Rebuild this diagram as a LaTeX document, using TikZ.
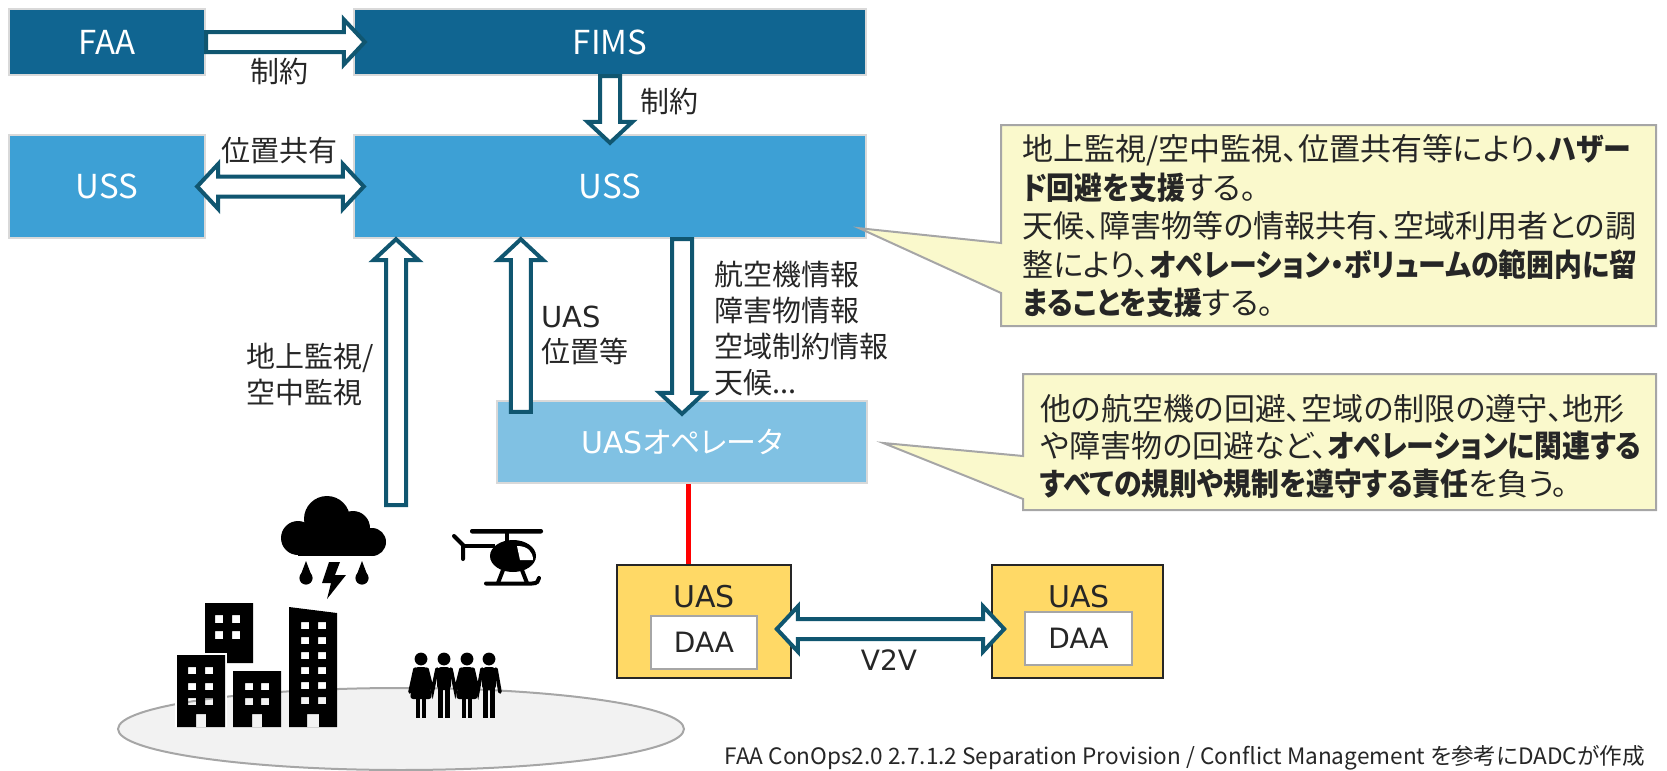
\documentclass[tikz,border=0pt]{standalone}
\usepackage{graphicx}
\usepackage{fontspec}
\setmainfont{Noto Sans CJK JP}[RawFeature=+palt]
\newfontfamily\dvs{DejaVu Sans}
\usetikzlibrary{calc}

\definecolor{faablue}{RGB}{16,101,145}
\definecolor{ussblue}{RGB}{61,160,213}
\definecolor{opblue}{RGB}{128,193,227}
\definecolor{arrowteal}{RGB}{16,86,112}
\definecolor{boxedge}{RGB}{217,217,217}
\definecolor{uasyellow}{RGB}{255,217,102}
\definecolor{notefill}{RGB}{250,249,204}
\definecolor{noteedge}{RGB}{166,166,166}
\definecolor{txt}{RGB}{38,38,38}
\definecolor{groundfill}{RGB}{242,242,242}

% condensed bold for emphasis inside the notes
\newcommand\bt[1]{\scalebox{0.9}[1]{\bfseries #1}}

% hollow block arrow from #1 to the tip #2
\newcommand\BlkArrow[2]{%
  \coordinate (hb) at ($(#2)!10.5pt!(#1)$);
  \draw[blk] ($(#1)!5pt!90:(#2)$) -- ($(hb)!5pt!-90:(#1)$) -- ($(hb)!11.25pt!-90:(#1)$) -- (#2)
    -- ($(hb)!11.25pt!90:(#1)$) -- ($(hb)!5pt!90:(#1)$) -- ($(#1)!5pt!-90:(#2)$) -- cycle;}
% hollow block arrow with heads at both ends
\newcommand\BlkDouble[2]{%
  \coordinate (ha) at ($(#1)!10.5pt!(#2)$);
  \coordinate (hb) at ($(#2)!10.5pt!(#1)$);
  \draw[blk] (#1) -- ($(ha)!11.25pt!90:(#2)$) -- ($(ha)!5pt!90:(#2)$) -- ($(hb)!5pt!-90:(#1)$)
    -- ($(hb)!11.25pt!-90:(#1)$) -- (#2) -- ($(hb)!11.25pt!90:(#1)$) -- ($(hb)!5pt!90:(#1)$)
    -- ($(ha)!5pt!-90:(#2)$) -- ($(ha)!11.25pt!-90:(#2)$) -- cycle;}
% pictogram people
\newcommand\PersonM[1]{%
  \fill (#1,659) circle (3.2pt);
  \fill[rounded corners=2pt] ({#1-7},667) rectangle ({#1+7},690);
  \fill ({#1-6},686) rectangle ({#1-1},718);
  \fill ({#1+1},686) rectangle ({#1+6},718);}
\newcommand\PersonW[1]{%
  \fill (#1,659) circle (3.2pt);
  \fill[rounded corners=1.5pt] ({#1-6},667) -- ({#1+6},667) -- ({#1+11},699) -- ({#1-11},699) -- cycle;
  \fill ({#1-5},697) rectangle ({#1-1},718);
  \fill ({#1+1},697) rectangle ({#1+5},718);}

\begin{document}
\begin{tikzpicture}[x=0.5pt,y=-0.5pt,
  box/.style={draw=boxedge, line width=1.2pt, inner sep=0pt, text=white,
    font=\fontsize{16.5}{20}\selectfont},
  blk/.style={draw=arrowteal, fill=white, line width=2pt, line join=miter},
  lbl/.style={text=txt, inner sep=0pt, align=left, font=\fontsize{14.5}{18}\selectfont},
  uasbox/.style={draw=txt, fill=uasyellow, line width=0.8pt, inner sep=0pt},
  daabox/.style={draw=noteedge, fill=white, line width=1pt, inner sep=0pt, text=txt,
    font=\dvs\fontsize{14}{16}\selectfont},
  note/.style={draw=noteedge, fill=notefill, line width=1pt, line join=miter},
  notetxt/.style={text=txt, inner sep=0pt, align=left}]
\useasboundingbox (0,0) rectangle (1667,771);

% ground
\draw[draw=noteedge, fill=groundfill, line width=1pt] (401,729) ellipse [x radius=141.5pt, y radius=20.5pt];

% buildings
\fill[even odd rule] (205,603) rectangle (253,663)
  (215,615) rectangle (223,623) (232,615) rectangle (240,623)
  (215,631) rectangle (223,639) (232,631) rectangle (240,639);
\draw[white, line width=2pt] (177,727) -- (177,655) -- (225,655) -- (225,727);
\fill[even odd rule] (177,655) rectangle (225,727)
  (188,667) rectangle (196,674) (205,667) rectangle (213,674)
  (188,683) rectangle (196,690) (205,683) rectangle (213,690)
  (188,698) rectangle (196,705) (205,698) rectangle (213,705)
  (196,714) rectangle (206,727);
\fill[even odd rule] (233,671) rectangle (281,727)
  (245,683) rectangle (253,690) (261,683) rectangle (269,690)
  (245,698) rectangle (253,705) (261,698) rectangle (269,705)
  (252,714) rectangle (262,727);
\fill[even odd rule] (289,607) -- (337,613) -- (337,727) -- (289,727) -- cycle
  (301,622) rectangle (309,629) (318,622) rectangle (326,629)
  (301,637) rectangle (309,644) (318,637) rectangle (326,644)
  (301,652) rectangle (309,659) (318,652) rectangle (326,659)
  (301,667) rectangle (309,674) (318,667) rectangle (326,674)
  (301,682) rectangle (309,689) (318,682) rectangle (326,689)
  (301,697) rectangle (309,704) (318,697) rectangle (326,704)
  (307,714) rectangle (319,727);

% storm cloud
\fill (298,538) circle (8.5pt);
\fill (327,519) circle (11.5pt);
\fill (353,528) circle (8.5pt);
\fill (372,542) circle (7pt);
\fill (298,530) rectangle (372,556);
\fill (306,578) circle (3.3pt);
\fill (306,561) -- (300.3,576) -- (311.7,576) -- cycle;
\fill (362,578) circle (3.3pt);
\fill (362,561) -- (356.3,576) -- (367.7,576) -- cycle;
\fill (329,562) -- (340,562) -- (335,575) -- (346,575) -- (327,599) -- (331,583) -- (322,583) -- cycle;

% helicopter
\fill[rounded corners=1pt] (470,529) rectangle (543,533.5);
\fill (504.5,531) rectangle (508.5,542);
\fill (513,556) ellipse [x radius=11.5pt, y radius=8pt];
\fill[white] (517,546) .. controls (528,546) and (533,552) .. (533,560) -- (520,560) -- cycle;
\draw[line width=2pt, line cap=round] (454,536) -- (463,545) -- (463,559);
\draw[line width=2pt] (463,546) -- (495,546);
\draw[line width=2pt, line cap=round] (486,583.5) -- (532,583.5) .. controls (537,583.5) and (539,581) .. (539,578);
\draw[line width=2pt] (503,570) -- (498,583);
\draw[line width=2pt] (522,570) -- (527,583);

% people
\PersonW{421}\PersonM{444}\PersonW{467}\PersonM{489}
\begin{scope}[line width=1.8pt, line cap=round]
  \draw (415,669) -- (410,692);
  \draw (427,669) -- (432.5,691) -- (437,669);
  \draw (451,669) -- (455.5,691) -- (461,669);
  \draw (473,669) -- (478,691) -- (482,669);
  \draw (496,669) -- (500,692);
\end{scope}

% system boxes
\node[box, fill=faablue, minimum width=98pt, minimum height=33pt] (faa) at (107,42) {FAA};
\node[box, fill=faablue, minimum width=256pt, minimum height=33pt] (fims) at (610,42) {FIMS};
\node[box, fill=ussblue, minimum width=98pt, minimum height=51.5pt] (ussl) at (107,186.5) {USS};
\node[box, fill=ussblue, minimum width=256pt, minimum height=51.5pt] (uss) at (610,186.5) {USS};
\node[box, fill=opblue, minimum width=185pt, minimum height=41pt, font=\fontsize{15}{18}\selectfont]
  (op) at (682,442) {{\dvs UAS}オペレータ};

% aircraft with detect-and-avoid
\node[uasbox, minimum width=87pt, minimum height=56.5pt] (uasl) at (704,621.5) {};
\node[text=txt, inner sep=0pt, font=\dvs\fontsize{15}{18}\selectfont] (uaslt) at (704,597) {UAS};
\node[daabox, minimum width=53pt, minimum height=26.5pt] (daal) at (704,642.5) {DAA};
\node[uasbox, minimum width=85.5pt, minimum height=56.5pt] (uasr) at (1077.5,621.5) {};
\node[text=txt, inner sep=0pt, font=\dvs\fontsize{15}{18}\selectfont] (uasrt) at (1079,597) {UAS};
\node[daabox, minimum width=53.5pt, minimum height=26.5pt] (daar) at (1078.5,638.5) {DAA};

% operator to aircraft link
\draw[red, line width=2.5pt] ([xshift=-8pt]uasl.north |- op.south) -- ([xshift=-8pt]uasl.north);

% information flows
\coordinate (a1t) at ([xshift=6pt]fims.west);
\BlkArrow{faa.east}{a1t}
\coordinate (a2t) at ([yshift=-4.5pt]uss.north);
\BlkArrow{fims.south}{a2t}
\coordinate (a3l) at ([xshift=-4.5pt]ussl.east);
\coordinate (a3r) at ([xshift=5.5pt]uss.west);
\BlkDouble{a3l}{a3r}
\coordinate (g0) at (396,505);
\coordinate (g1) at (g0 |- uss.south);
\BlkArrow{g0}{g1}
\coordinate (p0) at ([xshift=12.5pt,yshift=-6pt]op.north west);
\coordinate (p1) at (p0 |- uss.south);
\BlkArrow{p0}{p1}
\coordinate (d0) at (op.north |- uss.south);
\coordinate (d1) at ([yshift=-7pt]op.north);
\BlkArrow{d0}{d1}
\coordinate (v0) at ([shift={(-7.5pt,-3.75pt)}]uasl.east);
\coordinate (v1) at ([shift={(6.5pt,-3.75pt)}]uasr.west);
\BlkDouble{v0}{v1}

% flow labels
\node[lbl] (lb1) at (279,71) {制約};
\node[lbl, anchor=west] (lb2) at (640,101) {制約};
\node[lbl] (lb3) at (279,150) {位置共有};
\node[lbl, anchor=west] (lb4) at (246,374) {地上監視/\\空中監視};
\node[lbl, anchor=west, font=\fontsize{14.5}{17.5}\selectfont] (lb5) at (541,335) {{\dvs UAS}\\位置等};
\node[lbl, anchor=west] (lb6) at (714,329) {航空機情報\\障害物情報\\空域制約情報\\天候...};
\node[text=txt, inner sep=0pt, font=\dvs\fontsize{14}{16}\selectfont] (lb7) at (889,660) {V2V};

% notes
\coordinate (t1) at ([shift={(-4pt,5.5pt)}]uss.south east);
\draw[note] (1001,125) -- (1656,125) -- (1656,326) -- (1001,326) -- (1001,293) -- (t1) -- (1001,243) -- cycle;
\node[notetxt, anchor=west, font=\fontsize{15.5}{19.25}\selectfont] (n1) at (1022,226)
  {地上監視/空中監視、位置共有等により\bt{、ハザー}\\
   \bt{ド回避を支援}する。\\
   天候、障害物等の情報共有、空域利用者との調\\
   整により、\bt{オペレーション・ボリュームの範囲内に留}\\
   \bt{まることを支援}する。};
\coordinate (t2) at ([shift={(7.5pt,-0.5pt)}]op.east);
\draw[note] (1023,374) -- (1656,374) -- (1656,510) -- (1023,510) -- (1023,499) -- (t2) -- (1023,456) -- cycle;
\node[notetxt, anchor=west, font=\fontsize{15.5}{18.75}\selectfont] (n2) at (1040,446)
  {他の航空機の回避、空域の制限の遵守、地形\\
   や障害物の回避など、\bt{オペレーションに関連する}\\
   \bt{すべての規則や規制を遵守する責任}を負う。};

% source
\node[text=txt, inner sep=0pt, anchor=east, font=\fontsize{11.3}{13}\selectfont] (src) at (1645,758)
  {FAA ConOps2.0 2.7.1.2 Separation Provision / Conflict Management を参考にDADCが作成};
\end{tikzpicture}
\end{document}
